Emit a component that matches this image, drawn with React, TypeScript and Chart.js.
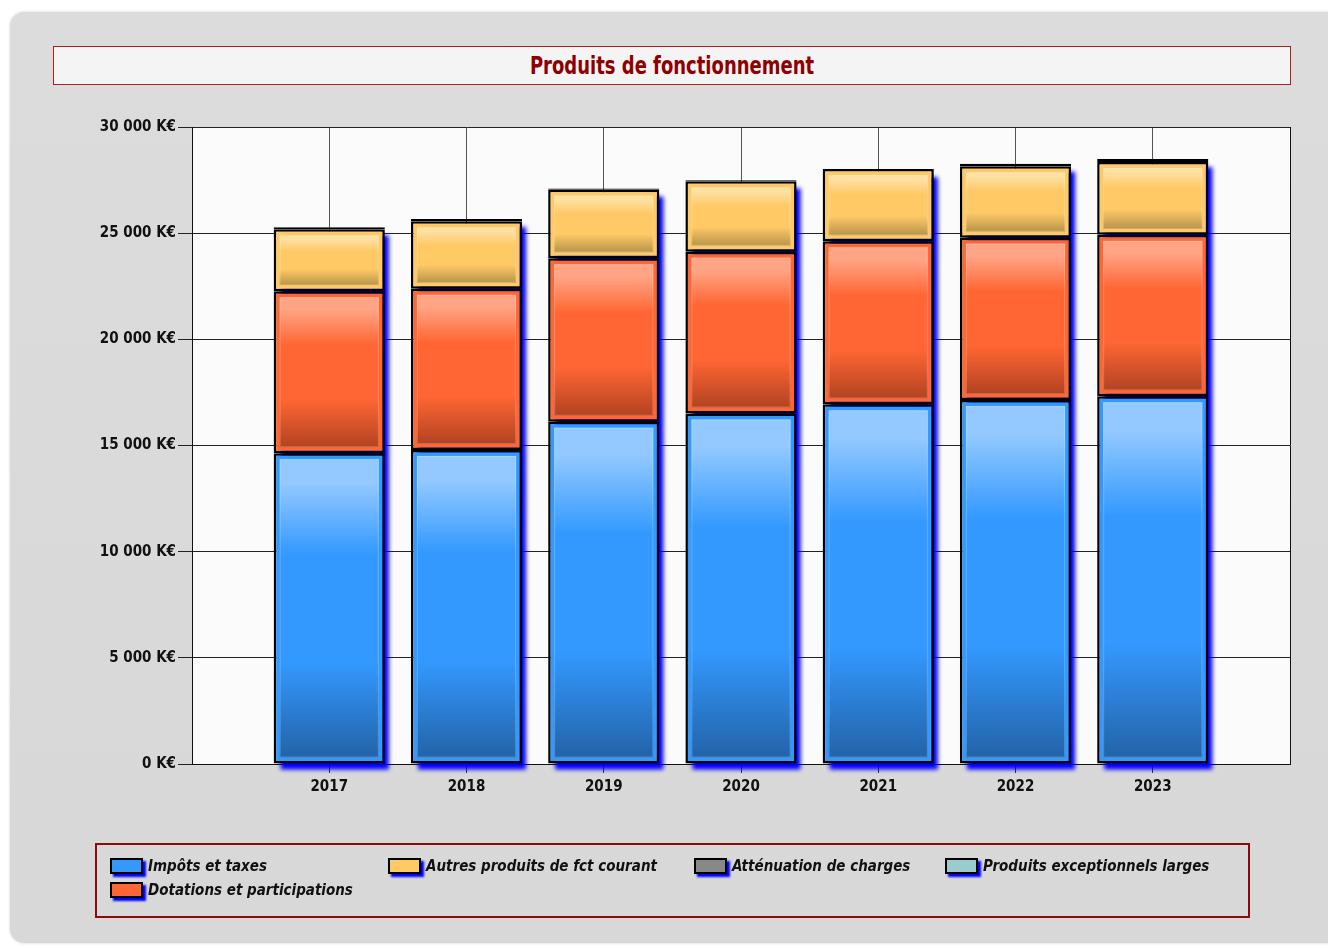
import React, { useEffect, useRef } from 'react';
import { Chart, registerables } from 'chart.js';

Chart.register(...registerables);

// ---------- data ----------
const years = ['2017', '2018', '2019', '2020', '2021', '2022', '2023'];
const axisLabels = ['', ...years, ''];
const impots = [14640, 14790, 16120, 16510, 16940, 17140, 17320];
const dotations = [7630, 7590, 7700, 7620, 7680, 7650, 7600];
const autres = [2910, 3180, 3230, 3310, 3400, 3360, 3430];
const attenuation = [100, 110, 50, 50, 0, 120, 140];
const exceptionnels = [0, 0, 0, 0, 0, 0, 0];
const seriesNames = [
  'Impôts et taxes',
  'Dotations et participations',
  'Autres produits de fct courant',
  'Atténuation de charges',
  'Produits exceptionnels larges',
];
const seriesValues = [impots, dotations, autres, attenuation, exceptionnels];
const seriesColors = ['#3399ff', '#ff6633', '#ffc966', '#888888', '#99cccc'];
const seriesLight = ['#93c9ff', '#ffa586', '#fee0a2', '#bbbbbb', '#cce6e6'];
const seriesDark = ['#2363a8', '#b24322', '#b8944a', '#555555', '#668888'];
const legendOrder = [0, 2, 3, 4, 1];
const yMax = 30000;
const yStep = 5000;
const titleText = 'Produits de fonctionnement';

const FONT = "'DejaVu Sans Condensed', 'DejaVu Sans', sans-serif";

const fmtTick = (v: number) => (v === 0 ? '0 K€' : `${v / 1000} 000 K€`);

const plotBgPlugin = {
  id: 'plotBg',
  beforeDraw(chart: any) {
    const { ctx, chartArea } = chart;
    ctx.save();
    ctx.fillStyle = '#fbfbfb';
    ctx.fillRect(chartArea.left, chartArea.top, chartArea.right - chartArea.left, chartArea.bottom - chartArea.top);
    ctx.restore();
  },
};

const shadowPlugin = {
  id: 'barShadow',
  beforeDatasetsDraw(chart: any) {
    const ctx = chart.ctx;
    const metas = chart.getSortedVisibleDatasetMetas();
    const n = chart.data.labels.length;
    ctx.save();
    ctx.fillStyle = '#0000ff';
    ctx.filter = 'blur(2px)';
    for (let i = 0; i < n; i++) {
      let top = Infinity;
      let bottom = -Infinity;
      let x = 0;
      let w = 0;
      let found = false;
      metas.forEach((meta: any) => {
        const v = chart.data.datasets[meta.index].data[i];
        if (v === null || v === undefined) return;
        const el = meta.data[i];
        if (!el) return;
        const p = el.getProps(['x', 'y', 'base', 'width'], true);
        top = Math.min(top, p.y, p.base);
        bottom = Math.max(bottom, p.y, p.base);
        x = p.x;
        w = p.width;
        found = true;
      });
      if (!found) continue;
      ctx.fillRect(x - w / 2 + 7, top + 8, w - 3, bottom - top - 2);
    }
    ctx.restore();
  },
};

const innerFillPlugin = {
  id: 'innerFill',
  afterDatasetDraw(chart: any, args: any) {
    const ctx = chart.ctx;
    const idx = args.index;
    const meta = args.meta;
    const ds = chart.data.datasets[idx];
    ctx.save();
    meta.data.forEach((el: any, i: number) => {
      const v = ds.data[i];
      if (v === null || v === undefined || v === 0) return;
      const p = el.getProps(['x', 'y', 'base', 'width'], true);
      const top = Math.min(p.y, p.base);
      const bottom = Math.max(p.y, p.base);
      const inset = 6;
      const l = p.x - p.width / 2 + inset;
      const r = p.x + p.width / 2 - inset;
      const t = top + inset;
      const b = bottom - inset;
      if (b - t < 3) return;
      const g = ctx.createLinearGradient(0, t, 0, b);
      g.addColorStop(0, seriesLight[idx]);
      g.addColorStop(0.08, seriesLight[idx]);
      g.addColorStop(0.32, seriesColors[idx]);
      g.addColorStop(0.68, seriesColors[idx]);
      g.addColorStop(1, seriesDark[idx]);
      ctx.fillStyle = g;
      ctx.fillRect(l, t, r - l, b - t);
      ctx.strokeStyle = 'rgba(255,255,255,0.22)';
      ctx.lineWidth = 1;
      ctx.strokeRect(l + 0.5, t + 0.5, r - l - 1, b - t - 1);
    });
    ctx.restore();
  },
};

function ChartCanvas() {
  const ref = useRef<HTMLCanvasElement | null>(null);
  useEffect(() => {
    if (!ref.current) return;
    const datasets = seriesNames.map((name, i) => ({
      label: name,
      data: [null, ...seriesValues[i], null],
      backgroundColor: seriesColors[i],
      borderColor: '#000000',
      borderWidth: 2.5,
      borderSkipped: false,
      barPercentage: 0.81,
      categoryPercentage: 1,
    }));
    const chart = new Chart(ref.current, {
      type: 'bar',
      data: { labels: axisLabels, datasets: datasets as any },
      options: {
        animation: false,
        responsive: false,
        devicePixelRatio: 1,
        layout: { padding: { left: 0, top: 127, right: 38, bottom: 144 } },
        plugins: {
          legend: { display: false },
          title: { display: false },
          tooltip: { enabled: false },
        },
        scales: {
          x: {
            stacked: true,
            offset: false,
            afterFit: (s: any) => {
              s.height = 40;
            },
            grid: {
              offset: false,
              color: (c: any) => (c.index === 0 || c.index === axisLabels.length - 1 ? '#111' : '#555'),
              tickColor: (c: any) => (c.index === 0 || c.index === axisLabels.length - 1 ? 'rgba(0,0,0,0)' : '#333'),
              tickLength: 9,
              lineWidth: 1,
            },
            border: { color: '#111', width: 1 },
            ticks: {
              color: '#111',
              padding: 5,
              font: { family: FONT, size: 15, weight: 'bold' },
              maxRotation: 0,
              autoSkip: false,
            },
          },
          y: {
            stacked: true,
            min: 0,
            max: yMax,
            afterFit: (s: any) => {
              s.width = 192;
            },
            grid: { color: '#222', tickColor: '#222', tickLength: 14, lineWidth: 1 },
            border: { color: '#111', width: 1 },
            ticks: {
              stepSize: yStep,
              color: '#111',
              padding: 2,
              font: { family: FONT, size: 15, weight: 'bold' },
              callback: (v: any) => fmtTick(Number(v)),
            },
          },
        },
      },
      plugins: [plotBgPlugin, shadowPlugin, innerFillPlugin],
    });
    return () => chart.destroy();
  }, []);
  return (
    <canvas
      ref={ref}
      width={1328}
      height={948}
      style={{ position: 'absolute', left: 0, top: 0, width: 1328, height: 948 }}
    />
  );
}

const legendColX = [110, 388, 694, 945];
const legendRowY = [866, 890];

export default function App() {
  return (
    <div
      style={{
        position: 'absolute',
        left: 0,
        top: 0,
        width: 1328,
        height: 948,
        overflow: 'hidden',
        background: '#ffffff',
      }}
    >
      <div
        style={{
          position: 'absolute',
          left: 10,
          top: 12,
          width: 1340,
          height: 931,
          borderRadius: 14,
          background: 'linear-gradient(180deg, #dcdcdc 0%, #d8d8d8 100%)',
          boxShadow: '0 0 3px rgba(0,0,0,0.18)',
        }}
      />
      <div
        style={{
          position: 'absolute',
          left: 53,
          top: 46,
          width: 1238,
          height: 39,
          boxSizing: 'border-box',
          border: '1px solid #b01c1c',
          background: '#f4f4f4',
        }}
      >
        <div
          style={{
            width: '100%',
            textAlign: 'center',
            color: '#8e0000',
            fontFamily: FONT,
            fontWeight: 'bold',
            fontSize: 20,
            lineHeight: '37px',
            transform: 'scale(1, 1.25)',
            transformOrigin: '50% 50%',
          }}
        >
          {titleText}
        </div>
      </div>
      <ChartCanvas />
      <div
        style={{
          position: 'absolute',
          left: 95,
          top: 843,
          width: 1155,
          height: 75,
          boxSizing: 'border-box',
          border: '2px solid #8e0a0a',
        }}
      />
      {legendOrder.map((si, k) => {
        const col = k % 4;
        const row = Math.floor(k / 4);
        const x = legendColX[col];
        const y = legendRowY[row];
        return (
          <React.Fragment key={si}>
            <div
              style={{
                position: 'absolute',
                left: x,
                top: y - 8,
                width: 33,
                height: 16,
                boxSizing: 'border-box',
                border: '2px solid #000',
                background: seriesColors[si],
                boxShadow: '3px 3px 2px #0000ff',
              }}
            />
            <div
              style={{
                position: 'absolute',
                left: x + 38,
                top: y - 11,
                height: 22,
                lineHeight: '22px',
                whiteSpace: 'nowrap',
                fontFamily: FONT,
                fontStyle: 'italic',
                fontWeight: 'bold',
                fontSize: 15,
                color: '#111',
              }}
            >
              {seriesNames[si]}
            </div>
          </React.Fragment>
        );
      })}
    </div>
  );
}
